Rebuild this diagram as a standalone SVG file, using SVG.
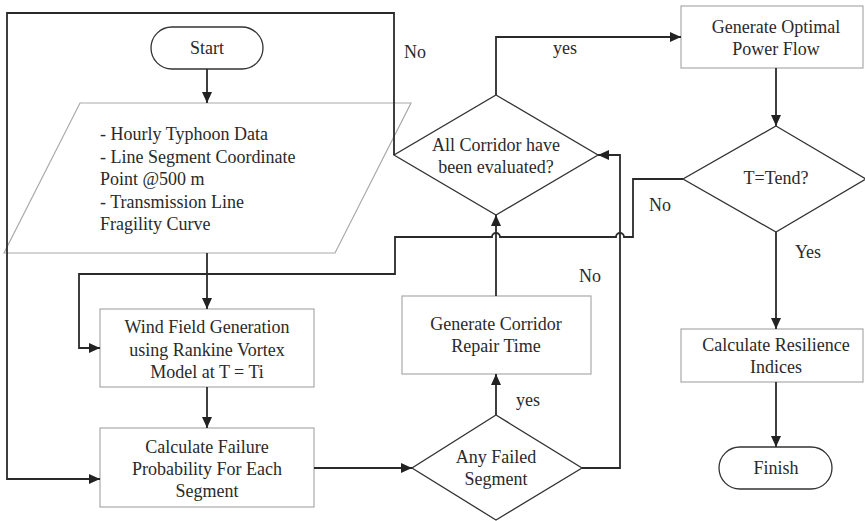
<svg xmlns="http://www.w3.org/2000/svg" width="865" height="521" viewBox="0 0 865 521">
<defs>
<marker id="arr" markerUnits="userSpaceOnUse" markerWidth="12" markerHeight="12" viewBox="0 0 12 12" refX="11" refY="6" orient="auto">
<path d="M0,1 L11,6 L0,11 Z" fill="#222"/>
</marker>
</defs>
<style>
text{font-family:"Liberation Serif","Times New Roman",serif;font-size:18px;fill:#2a2a2a;text-anchor:middle}
.box{fill:#fff;stroke:#aaaaaa;stroke-width:1.2}
.dec{fill:#fff;stroke:#333;stroke-width:1.3}
.con{fill:none;stroke:#2a2a2a;stroke-width:1.8}
</style>
<rect width="865" height="521" fill="#fff"/>
<g id="start">
<rect class="dec" x="151" y="27" width="112" height="42" rx="21" ry="21"/>
<text x="207" y="54">Start</text>
</g>
<g id="input">
<polygon class="box" points="80,103 411,103 335,253 4,253"/>
<text x="100" y="140" style="text-anchor:start">- Hourly Typhoon Data</text>
<text x="100" y="162.5" style="text-anchor:start">- Line Segment Coordinate</text>
<text x="100" y="185" style="text-anchor:start">Point @500 m</text>
<text x="100" y="207.5" style="text-anchor:start">- Transmission Line</text>
<text x="100" y="230" style="text-anchor:start">Fragility Curve</text>
</g>
<g id="windfield">
<rect class="box" x="100" y="309" width="214" height="78"/>
<text x="207" y="333">Wind Field Generation</text>
<text x="207" y="356">using Rankine Vortex</text>
<text x="207" y="378">Model at T = Ti</text>
</g>
<g id="failureprob">
<rect class="box" x="100" y="428" width="214" height="79"/>
<text x="207" y="453">Calculate Failure</text>
<text x="207" y="475">Probability For Each</text>
<text x="207" y="497">Segment</text>
</g>
<g id="anyfailed">
<polygon class="dec" points="496,415 582,468 496,520 412,468"/>
<text x="496" y="463">Any Failed</text>
<text x="496" y="485">Segment</text>
</g>
<g id="repairtime">
<rect class="box" x="402" y="296" width="189" height="78"/>
<text x="496" y="330">Generate Corridor</text>
<text x="496" y="352">Repair Time</text>
</g>
<g id="allcorridor">
<polygon class="dec" points="496,95 598,155 496,215 394,155"/>
<text x="496" y="151">All Corridor have</text>
<text x="496" y="173">been evaluated?</text>
</g>
<g id="opf">
<rect class="box" x="681" y="6" width="182" height="62"/>
<text x="776" y="33">Generate Optimal</text>
<text x="776" y="55">Power Flow</text>
</g>
<g id="tend">
<polygon class="dec" points="776,126 866,179 776,232 683,179"/>
<text x="776" y="184">T=Tend?</text>
</g>
<g id="resilience">
<rect class="box" x="681" y="329" width="182" height="53"/>
<text x="776" y="351">Calculate Resilience</text>
<text x="776" y="373">Indices</text>
</g>
<g id="finish">
<rect class="dec" x="719" y="447" width="113" height="42" rx="21" ry="21"/>
<text x="776" y="474">Finish</text>
</g>
<g id="connectors">
<path class="con" d="M207,69 L207,103" marker-end="url(#arr)"/>
<path class="con" d="M207,253 L207,309" marker-end="url(#arr)"/>
<path class="con" d="M207,387 L207,428" marker-end="url(#arr)"/>
<path class="con" d="M314,468 L412,468" marker-end="url(#arr)"/>
<path class="con" d="M496,415 L496,374" marker-end="url(#arr)"/>
<path class="con" d="M496,296 L496,215" marker-end="url(#arr)"/>
<path class="con" d="M582,468 L620,468 L620,155 L598,155" marker-end="url(#arr)"/>
<path class="con" d="M394,155 L394,13 L7,13 L7,479 L100,479" marker-end="url(#arr)"/>
<path class="con" d="M496,95 L496,37 L681,37" marker-end="url(#arr)"/>
<path class="con" d="M776,68 L776,126" marker-end="url(#arr)"/>
<path class="con" d="M683,179 L633,179 L633,237 L624,237 A4,4 0 0 0 616,237 L500,237 A4,4 0 0 0 492,237 L395,237 L395,274 L79,274 L79,348 L100,348" marker-end="url(#arr)"/>
<path class="con" d="M776,232 L776,329" marker-end="url(#arr)"/>
<path class="con" d="M776,382 L776,447" marker-end="url(#arr)"/>
<text x="415" y="58">No</text>
<text x="565" y="54">yes</text>
<text x="590" y="282">No</text>
<text x="528" y="406">yes</text>
<text x="660" y="211">No</text>
<text x="808" y="258">Yes</text>
</g>
</svg>
